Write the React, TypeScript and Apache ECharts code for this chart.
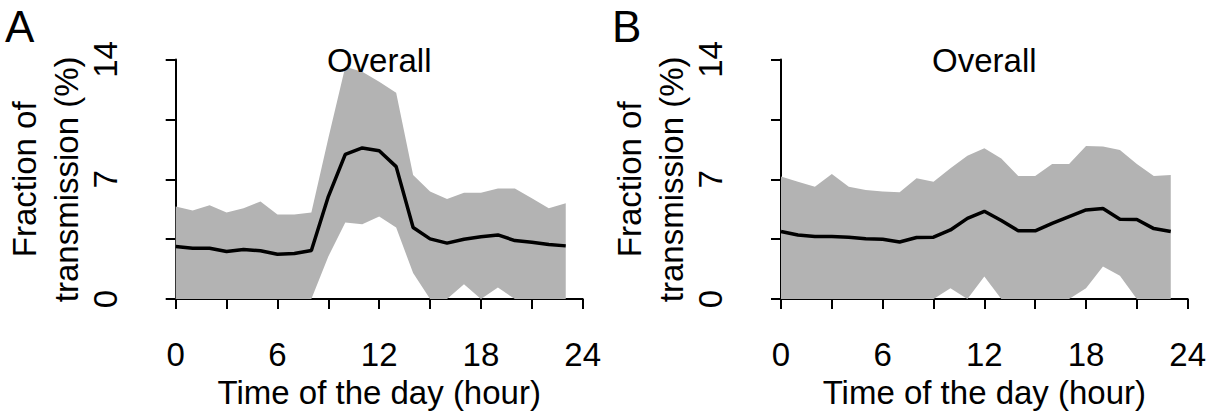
import React, { useEffect, useRef } from "react";
import * as echarts from "echarts";

const hours = [0, 1, 2, 3, 4, 5, 6, 7, 8, 9, 10, 11, 12, 13, 14, 15, 16, 17, 18, 19, 20, 21, 22, 23];

const meanA = [3.07, 2.97, 2.97, 2.78, 2.9, 2.82, 2.62, 2.66, 2.84, 5.99, 8.46, 8.83, 8.67, 7.74, 4.18, 3.52, 3.27, 3.5, 3.64, 3.75, 3.42, 3.32, 3.19, 3.11];
const upperA = [5.41, 5.17, 5.48, 5.06, 5.31, 5.7, 4.94, 4.94, 5.06, 9.4, 13.57, 13.28, 12.7, 12.06, 7.25, 6.28, 5.85, 6.22, 6.22, 6.46, 6.46, 5.89, 5.31, 5.6];
const lowerA = [0, 0, 0, 0, 0, 0, 0, 0, 0, 2.49, 4.47, 4.37, 4.82, 4.18, 1.52, 0, 0, 0.87, 0, 0.68, 0, 0, 0, 0];

const meanB = [3.95, 3.75, 3.66, 3.66, 3.62, 3.52, 3.5, 3.34, 3.6, 3.62, 4.04, 4.72, 5.13, 4.59, 3.99, 3.99, 4.43, 4.82, 5.21, 5.29, 4.67, 4.65, 4.12, 3.95];
const upperB = [7.16, 6.86, 6.57, 7.31, 6.57, 6.38, 6.28, 6.24, 7.06, 6.86, 7.64, 8.38, 8.81, 8.22, 7.19, 7.19, 7.89, 7.89, 8.94, 8.91, 8.71, 7.89, 7.19, 7.25];
const lowerB = [0, 0, 0, 0, 0, 0, 0, 0, 0, 0, 0.64, 0, 1.32, 0, 0, 0, 0, 0, 0.64, 1.91, 1.36, 0, 0, 0];

const panelLetters = ["A", "B"];
const panelTitles = ["Overall", "Overall"];
const xAxisTitle = "Time of the day (hour)";
const yAxisTitle = "Fraction of\ntransmission (%)";

const FONT = "'Liberation Sans', Arial, Helvetica, sans-serif";
const FS = 33;

export default function App() {
  const ref = useRef<HTMLDivElement>(null);
  useEffect(() => {
    if (!ref.current) return;
    const chart = echarts.init(ref.current, null, { renderer: "svg" });
    const grids = [
      { left: 175.7, top: 59.5, width: 407, height: 239.8 },
      { left: 781, top: 59.5, width: 406.7, height: 239.8 },
    ];
    const panels = [
      { mean: meanA, upper: upperA, lower: lowerA },
      { mean: meanB, upper: upperB, lower: lowerB },
    ];
    const xAxes = grids.map((_, i) => ({
      type: "value",
      gridIndex: i,
      min: 0,
      max: 24,
      interval: 3,
      offset: 20,
      position: "bottom",
      splitLine: { show: false },
      axisLine: { show: true, lineStyle: { color: "#000", width: 2 } },
      axisTick: { show: true, length: 10, lineStyle: { color: "#000", width: 2 } },
      axisLabel: {
        margin: 19,
        fontSize: FS,
        fontFamily: FONT,
        color: "#000",
        formatter: (v: number) => (v % 6 === 0 ? String(v) : ""),
      },
      name: xAxisTitle,
      nameLocation: "middle",
      nameGap: 53,
      nameTextStyle: { fontSize: FS, fontFamily: FONT, color: "#000" },
    }));
    const yAxes = grids.map((_, i) => ({
      type: "value",
      gridIndex: i,
      min: 0,
      max: 14,
      interval: 3.5,
      offset: i === 0 ? 25.7 : 26,
      position: "left",
      splitLine: { show: false },
      axisLine: { show: true, lineStyle: { color: "#000", width: 2 } },
      axisTick: { show: true, length: 10, lineStyle: { color: "#000", width: 2 } },
      axisLabel: {
        margin: 28,
        rotate: 90,
        fontSize: FS,
        fontFamily: FONT,
        color: "#000",
        formatter: (v: number) => (v % 7 === 0 ? String(v) : ""),
      },
      name: yAxisTitle,
      nameLocation: "middle",
      nameRotate: 90,
      nameGap: 63,
      nameTextStyle: { fontSize: FS, fontFamily: FONT, color: "#000", lineHeight: 42 },
    }));
    const series: any[] = [];
    panels.forEach((p, i) => {
      series.push({
        type: "custom",
        xAxisIndex: i,
        yAxisIndex: i,
        data: hours.map((h, k) => [h, p.lower[k], p.upper[k]]),
        encode: { x: 0, y: [1, 2] },
        silent: true,
        z: 1,
        renderItem: (params: any, api: any) => {
          if (params.dataIndex !== 0) return null;
          const top = hours.map((h, k) => api.coord([h, p.upper[k]]));
          const bottom = hours
            .map((h, k) => api.coord([h, p.lower[k]]))
            .reverse();
          return {
            type: "polygon",
            shape: { points: top.concat(bottom) },
            style: { fill: "#b3b3b3", stroke: "none" },
          };
        },
      });
      series.push({
        type: "line",
        xAxisIndex: i,
        yAxisIndex: i,
        data: hours.map((h, k) => [h, p.mean[k]]),
        showSymbol: false,
        lineStyle: { color: "#000", width: 3.5 },
        silent: true,
        z: 3,
      });
    });
    chart.setOption({
      animation: false,
      backgroundColor: "#fff",
      grid: grids,
      xAxis: xAxes,
      yAxis: yAxes,
      title: grids.map((g, i) => ({
        text: panelTitles[i],
        left: g.left + g.width / 2,
        top: 44,
        textAlign: "center",
        padding: 0,
        textStyle: { fontSize: FS, fontFamily: FONT, fontWeight: "normal", color: "#000" },
      })),
      graphic: panelLetters.map((t, i) => ({
        type: "text",
        left: i === 0 ? 5 : 612,
        top: 4,
        z: 10,
        style: { text: t, fontSize: 44, fontFamily: FONT, fill: "#000" },
      })),
      series,
    });
    return () => chart.dispose();
  }, []);
  return (
    <div
      ref={ref}
      style={{ position: "absolute", left: 0, top: 0, width: 1214, height: 414 }}
    />
  );
}
